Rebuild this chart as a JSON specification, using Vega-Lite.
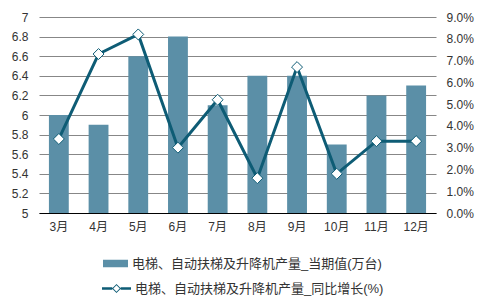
{
  "$schema": "https://vega.github.io/schema/vega-lite/v6.json",
  "width": 397,
  "height": 196,
  "autosize": {"type": "none"},
  "padding": {"left": 39, "top": 17, "right": 52, "bottom": 95},
  "background": "white",
  "config": {
    "view": {"stroke": null},
    "font": "Liberation Sans, Noto Sans CJK SC",
    "axis": {"labelFont": "Liberation Sans, Noto Sans CJK SC", "labelColor": "#333333", "labelFontSize": 12, "ticks": false, "title": null},
    "legend": {"labelFont": "Liberation Sans, Noto Sans CJK SC", "labelFontSize": 13, "labelColor": "#333333", "padding": 0, "labelOffset": 4, "labelLimit": 0}
  },
  "data": {
    "values": [
      {"month": "3月", "value": 6.0, "growth": 3.4},
      {"month": "4月", "value": 5.9, "growth": 7.3},
      {"month": "5月", "value": 6.6, "growth": 8.2},
      {"month": "6月", "value": 6.8, "growth": 3.0},
      {"month": "7月", "value": 6.1, "growth": 5.2},
      {"month": "8月", "value": 6.4, "growth": 1.6},
      {"month": "9月", "value": 6.4, "growth": 6.7},
      {"month": "10月", "value": 5.7, "growth": 1.8},
      {"month": "11月", "value": 6.2, "growth": 3.3},
      {"month": "12月", "value": 6.3, "growth": 3.3}
    ]
  },
  "encoding": {
    "x": {
      "field": "month", "type": "nominal", "sort": null,
      "scale": {"paddingInner": 0.5, "paddingOuter": 0.25},
      "axis": {"labelAngle": 0, "domainColor": "#000000", "domainWidth": 1, "labelPadding": 8, "grid": false}
    }
  },
  "layer": [
    {
      "mark": {"type": "bar", "color": "#5B8FA7", "clip": true},
      "encoding": {
        "y": {
          "field": "value", "type": "quantitative",
          "scale": {"domain": [5, 7], "zero": false, "nice": false},
          "axis": {"values": [5, 5.2, 5.4, 5.6, 5.8, 6, 6.2, 6.4, 6.6, 6.8, 7], "format": "~r", "grid": true, "gridColor": "#878787", "gridWidth": 1, "domain": false, "labelPadding": 11, "labelFontSize": 12}
        },
        "y2": {"datum": 5},
        "fill": {
          "datum": "电梯、自动扶梯及升降机产量_当期值(万台)", "type": "nominal",
          "scale": {"range": ["#5B8FA7"]},
          "legend": {"title": null, "orient": "none", "legendX": 64, "legendY": 234, "symbolType": "M-1,-0.3H1V0.3H-1Z", "symbolSize": 625, "symbolStrokeWidth": 0}
        }
      }
    },
    {
      "encoding": {
        "y": {
          "field": "growth", "type": "quantitative",
          "scale": {"domain": [0, 9], "nice": false},
          "axis": {"orient": "right", "values": [0, 1, 2, 3, 4, 5, 6, 7, 8, 9], "labelExpr": "format(datum.value, '.1f') + '%'", "grid": false, "domain": false, "labelPadding": 10, "labelFontSize": 12}
        }
      },
      "layer": [
        {
          "mark": {"type": "line", "color": "#0E5C75", "strokeWidth": 3},
          "encoding": {
            "stroke": {
              "datum": "电梯、自动扶梯及升降机产量_同比增长(%)", "type": "nominal",
              "scale": {"range": ["#0E5C75"]},
              "legend": {"title": null, "orient": "none", "legendX": 63, "legendY": 257, "symbolType": "M-1,-0.08H-0.29V0.08H-1Z M0.29,-0.08H1V0.08H0.29Z M0,-0.31L0.31,0L0,0.31L-0.31,0Z M0,-0.22L-0.22,0L0,0.22L0.22,0Z", "symbolSize": 841, "encode": {"symbols": {"update": {"fill": {"value": "#0E5C75"}, "strokeWidth": {"value": 0}, "opacity": {"value": 1}}}}}
            }
          }
        },
        {
          "mark": {"type": "point", "shape": "diamond", "filled": true, "fill": "white", "stroke": "#0E5C75", "strokeWidth": 1, "size": 120, "opacity": 1},
          "encoding": {}
        }
      ]
    }
  ],
  "resolve": {"scale": {"y": "independent"}}
}
